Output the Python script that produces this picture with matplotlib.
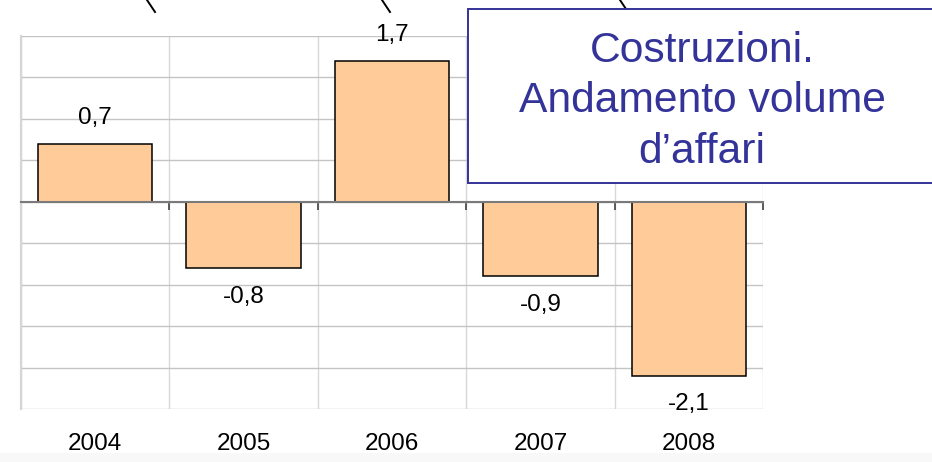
import numpy as np
import matplotlib
matplotlib.use('Agg')
import matplotlib.pyplot as plt
from matplotlib.patches import Rectangle
from matplotlib.lines import Line2D

plt.rcParams['font.family'] = ['Liberation Sans', 'DejaVu Sans']

# data
anni = ['2004', '2005', '2006', '2007', '2008']
valori = [0.7, -0.8, 1.7, -0.9, -2.1]
titolo = ['Costruzioni.', 'Andamento volume', 'd\u2019affari']

W, H = 932, 462
fig = plt.figure(figsize=(W/100, H/100), dpi=100)
ax = fig.add_axes([21/W, 1-409/H, (763-21)/W, (409-36)/H])

x = np.arange(len(anni))
ax.bar(x, valori, width=0.77, color='#ffcc99', edgecolor='black',
       linewidth=1.1, zorder=3)

# data labels
for xi, v in zip(x, valori):
    off = 18.5 if v > 0 else -20.5
    ax.annotate(f'{v:.1f}'.replace('.', ','), (xi, v), xytext=(0, off),
                textcoords='offset points', ha='center', va='center',
                fontsize=17.5, zorder=4)

ax.set_xlim(-0.5, len(anni)-0.5)
ax.set_ylim(-2.5, 2.0)
ax.set_yticks(np.arange(-2.5, 2.01, 0.5))
ax.set_xticks(np.arange(-0.5, len(anni), 1.0))
ax.tick_params(axis='y', length=0, labelleft=False)
ax.tick_params(axis='x', direction='out', length=6, width=1.2,
               color='#404040', labelbottom=False)
ax.grid(True, axis='y', color='#c4c4c4', lw=1.0, zorder=0)
ax.grid(True, axis='x', color='#d8d8d8', lw=1.0, zorder=0)

for s in ['top', 'right']:
    ax.spines[s].set_visible(False)
ax.spines['left'].set_color('#d6d6d6')
ax.spines['left'].set_linewidth(1.6)
ax.spines['bottom'].set_position(('data', 0))
ax.spines['bottom'].set_color('#7a7a7a')
ax.spines['bottom'].set_linewidth(1.5)
ax.spines['bottom'].set_zorder(4)

# year labels under the plot area
sec = ax.secondary_xaxis(0.0)
sec.set_xticks(x)
sec.set_xticklabels(anni, fontsize=17.5)
sec.tick_params(length=0, pad=17)
sec.spines['bottom'].set_visible(False)

# light band at the very bottom
fig.patches.append(Rectangle((0, 0), 1, 9/H, transform=fig.transFigure,
                             facecolor='#f8f8f8', edgecolor='none', zorder=-1))

# cut-off strokes at the top edge
for x0 in [147, 382, 620]:
    fig.lines.append(Line2D([x0/W, (x0+8)/W], [1, 1-12/H], transform=fig.transFigure,
                            color='black', lw=1.4, zorder=4))

# title box
fig.patches.append(Rectangle((468/W, 1-183/H), 480/W, 174/H, transform=fig.transFigure,
                             facecolor='white', edgecolor='#333399', lw=1.4, zorder=5))
for riga, yb in zip(titolo, [62, 112, 163]):
    fig.text(702/W, 1-yb/H, riga, ha='center', va='baseline', fontsize=30.7,
             color='#333399', zorder=6)

fig.savefig('out.png', dpi=100)
